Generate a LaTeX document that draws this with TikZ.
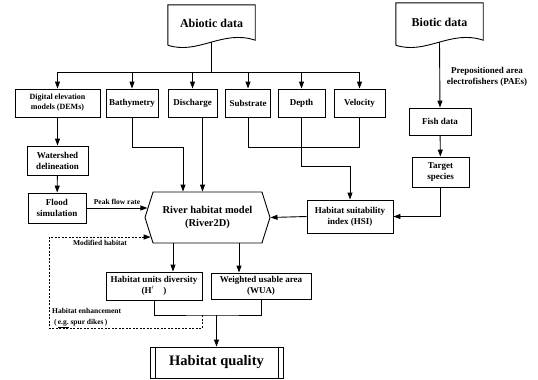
\documentclass[tikz,border=0pt]{standalone}
\usepackage{fontspec}
\setmainfont{Liberation Serif}
\usepackage{tikz}
\usetikzlibrary{arrows.meta, positioning, shapes.symbols, calc}

\begin{document}
\begin{tikzpicture}[x=1pt, y=-1pt,
    box/.style={draw, line width=0.9pt, align=center, inner sep=1pt, font=\bfseries\fontsize{9}{11}\selectfont},
    lbl/.style={align=center, inner sep=0pt, font=\bfseries\fontsize{7.5}{10}\selectfont},
    arr/.style={-{Triangle[length=7pt,width=5pt]}, line width=0.9pt},
    con/.style={line width=0.9pt}]
\useasboundingbox (0,0) rectangle (538,380);

% Data sources (document shapes)
\node[minimum width=87pt, minimum height=40pt, font=\bfseries\fontsize{12}{14}\selectfont] (abiotic) at (211.5,25) {\raisebox{3pt}{Abiotic data}};
\node[minimum width=87pt, minimum height=42pt, font=\bfseries\fontsize{12}{14}\selectfont] (biotic) at (439.5,24) {\raisebox{3pt}{Biotic data}};
\foreach \d in {abiotic, biotic} {
    \draw[con] (\d.south west) -- (\d.north west) -- (\d.north east) -- ([yshift=5pt]\d.south east)
        .. controls ($(\d.south west)+(55,-16)$) and ($(\d.south west)+(30,10)$) .. (\d.south west);
}

% Abiotic inputs
\node[box, minimum width=85pt, minimum height=28pt, font=\bfseries\fontsize{8}{10}\selectfont] (dem) at (57.5,103) {Digital elevation\\models (DEMs)};
\node[box, minimum width=52pt, minimum height=28pt] (bathy) at (132,103) {Bathymetry};
\node[box, minimum width=49pt, minimum height=28pt] (disch) at (192.5,103) {Discharge};
\node[box, minimum width=45pt, minimum height=28pt] (subst) at (248,103) {Substrate};
\node[box, minimum width=47pt, minimum height=28pt] (depth) at (301.5,103) {Depth};
\node[box, minimum width=51pt, minimum height=28pt] (vel) at (359.5,103) {Velocity};

% Bus from abiotic data
\coordinate (bus) at (211.5,72);
\draw[con] ([yshift=3pt]abiotic.south) -- (bus);
\draw[con] (dem.north |- bus) -- (vel.north |- bus);
\foreach \n in {dem, bathy, disch, subst, depth, vel} {
    \draw[arr] (\n.north |- bus) -- (\n.north);
}

% Flood branch
\node[box, minimum width=61pt, minimum height=29pt] (shed) at (57.5,160.5) {Watershed\\delineation};
\node[box, minimum width=58pt, minimum height=30pt] (flood) at (57,208) {Flood\\simulation};
\draw[arr] (dem) -- (shed);
\draw[arr] (shed) -- (flood);

% Model
\node[draw, line width=0.9pt, shape=signal, signal to=west and east, signal pointer angle=145,
      minimum width=125pt, minimum height=51pt, inner sep=0pt, align=center,
      font=\bfseries\fontsize{10.5}{13}\selectfont] (model) at (207.5,217.5) {River habitat model\\(River2D)};
\draw[arr] (flood.east) -- (flood.east -| model.171) node[lbl, midway, above=3pt] {Peak flow rate};

\coordinate (bend) at (183,147);
\draw[arr] (bathy.south) |- (bend) -- (bend |- model.north);
\coordinate (d1) at ([xshift=10pt]disch.south);
\draw[arr] (d1) -- (d1 |- model.north);

% Biotic branch
\node[box, minimum width=62pt, minimum height=27pt] (fish) at (440,121.5) {Fish data};
\node[box, minimum width=57pt, minimum height=30pt] (target) at (440.5,172) {Target\\species};
\node[box, minimum width=86pt, minimum height=33pt] (hsi) at (350,216.5) {Habitat suitability\\index (HSI)};
\draw[arr] ([yshift=3pt]biotic.south) -- (fish.north);
\node[lbl, font=\bfseries\fontsize{9}{10.5}\selectfont] at (487,77) {Prepositioned area\\electrofishers (PAEs)};
\draw[arr] (fish) -- (target);
\draw[arr] (target.south) |- (hsi.east);

% Substrate, depth, velocity to HSI
\draw[con] (subst.south) -- ++(0,30) -| (vel.south);
\coordinate (dk) at (301.5,166);
\draw[arr] (depth.south) -- (dk) -| (hsi.north);
\draw[arr] (hsi.west) -- (model.east);

% Outputs
\node[box, minimum width=96pt, minimum height=28pt] (hd) at (154,286) {Habitat units diversity\\(H$'$\quad)};
\node[box, minimum width=100pt, minimum height=26pt] (wua) at (261,286) {Weighted usable area\\(WUA)};
\coordinate (m1) at ([xshift=-34.5pt]model.south);
\coordinate (m2) at ([xshift=31.5pt]model.south);
\draw[arr] (m1) -- (m1 |- hd.north);
\draw[arr] (m2) -- (m2 |- wua.north);

\node[box, minimum width=133pt, minimum height=31pt, font=\bfseries\fontsize{14.5}{16}\selectfont] (quality) at (216.5,362.5) {Habitat quality};
\draw[con] ([xshift=6pt]quality.north west) -- ([xshift=6pt]quality.south west);
\draw[con] ([xshift=-5pt]quality.north east) -- ([xshift=-5pt]quality.south east);

\coordinate (join) at (216.5,315);
\draw[con] (hd.south) |- (join) -| (wua.south);
\draw[arr] (join) -- (quality.north);

% Feedback loop
\coordinate (fb) at (202,315);
\coordinate (loop) at (49,237);
\draw[arr, dash pattern=on 2pt off 1.5pt] (fb) -- ++(0,13) -| (loop) -- (loop -| model.199);
\node[lbl] at (100,243) {Modified habitat};
\node[lbl, align=left, anchor=west, font=\bfseries\fontsize{7.5}{10.5}\selectfont] at (52,318) {Habitat enhancement\\\ (\,\underline{e.g.} spur dikes\,)};
\end{tikzpicture}
\end{document}
